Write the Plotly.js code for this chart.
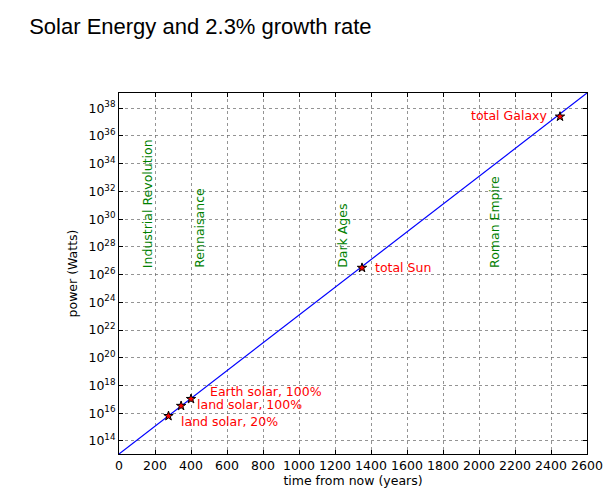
<!DOCTYPE html>
<html>
<head>
<meta charset="utf-8">
<script src="https://cdn.plot.ly/plotly-3.0.1.min.js"></script>
<style>html,body{margin:0;padding:0;background:#fff;}#chart{width:608px;height:500px;}</style>
</head>
<body>
<div id="chart"></div>
<script>
// Power demand growing 2.3% per year, on a log scale
const growthYears = [0, 2600];
const growthWatts = [1.15e13, 1.26e39];

// Milestones reached along the growth curve
const milestoneNames = ["land solar, 20%", "land solar, 100%", "Earth solar, 100%", "total Sun", "total Galaxy"];
const milestoneYears = [275, 345, 400, 1350, 2450];
const milestoneWatts = [6.3e15, 3.4e16, 1.07e17, 3.1e26, 2.5e37];

// Historical eras, as many years back as the milestones are ahead
const eraNames = ["Industrial Revolution", "Rennaisance", "Dark Ages", "Roman Empire"];
const eraYears = [155, 450, 1245, 2090];

const yTickExponents = [14, 16, 18, 20, 22, 24, 26, 28, 30, 32, 34, 36, 38];
const xTickValues = [0, 200, 400, 600, 800, 1000, 1200, 1400, 1600, 1800, 2000, 2200, 2400, 2600];

const font = "DejaVu Sans, sans-serif";
const labelOffsets = [
  {xanchor: "left", xshift: 10, yshift: -5},
  {xanchor: "left", xshift: 14, yshift: 1},
  {xanchor: "left", xshift: 17, yshift: 7},
  {xanchor: "left", xshift: 11, yshift: 0},
  {xanchor: "right", xshift: -11, yshift: 1}
];

const annotations = [];
milestoneNames.forEach((name, i) => {
  annotations.push(Object.assign({
    x: milestoneYears[i], y: Math.log10(milestoneWatts[i]),
    xref: "x", yref: "y", text: name, showarrow: false,
    yanchor: "middle", font: {family: font, size: 12.5, color: "#ff0000"}
  }, labelOffsets[i]));
});
eraNames.forEach((name, i) => {
  annotations.push({
    x: eraYears[i], y: 26.35, xref: "x", yref: "y", text: name,
    showarrow: false, textangle: -90, xanchor: "center", yanchor: "bottom",
    font: {family: font, size: 12.5, color: "#008000"}
  });
});

const traces = [
  {x: growthYears, y: growthWatts, mode: "lines", type: "scatter",
   line: {color: "#0000ff", width: 1.2}, hoverinfo: "skip"},
  {x: milestoneYears, y: milestoneWatts, mode: "markers", type: "scatter",
   marker: {symbol: "star", size: 7, color: "#ff0000", line: {color: "#000", width: 1}}}
];

const axisCommon = {
  showline: true, linecolor: "#000", linewidth: 1, mirror: "ticks",
  ticks: "inside", ticklen: 4, tickcolor: "#000",
  showgrid: true, gridcolor: "#666", griddash: "dot", gridwidth: 0.7,
  zeroline: false, tickfont: {family: font, size: 12.5, color: "#000"}
};

const layout = {
  width: 608, height: 500,
  margin: {l: 119, r: 21, t: 93, b: 46},
  paper_bgcolor: "#fff", plot_bgcolor: "#fff",
  showlegend: false,
  title: {text: "Solar Energy and 2.3% growth rate", x: 0.048, xanchor: "left",
          y: 0.948, yanchor: "middle", font: {family: "Liberation Sans, Arial, sans-serif", size: 22, color: "#000"}},
  xaxis: Object.assign({}, axisCommon, {
    range: [0, 2600], tickvals: xTickValues, ticktext: xTickValues.map(String),
    title: {text: "time from now (years)", standoff: 4, font: {family: font, size: 12.5, color: "#000"}}
  }),
  yaxis: Object.assign({}, axisCommon, {
    type: "log", range: [13.06, 39.1],
    tickvals: yTickExponents.map(e => Math.pow(10, e)),
    ticktext: yTickExponents.map(e => "10<sup>" + e + "</sup>"),
    title: {text: "power (Watts)", standoff: 8, font: {family: font, size: 12.5, color: "#000"}}
  }),
  annotations: annotations
};

Plotly.newPlot("chart", traces, layout, {staticPlot: true, displayModeBar: false});
</script>
</body>
</html>
